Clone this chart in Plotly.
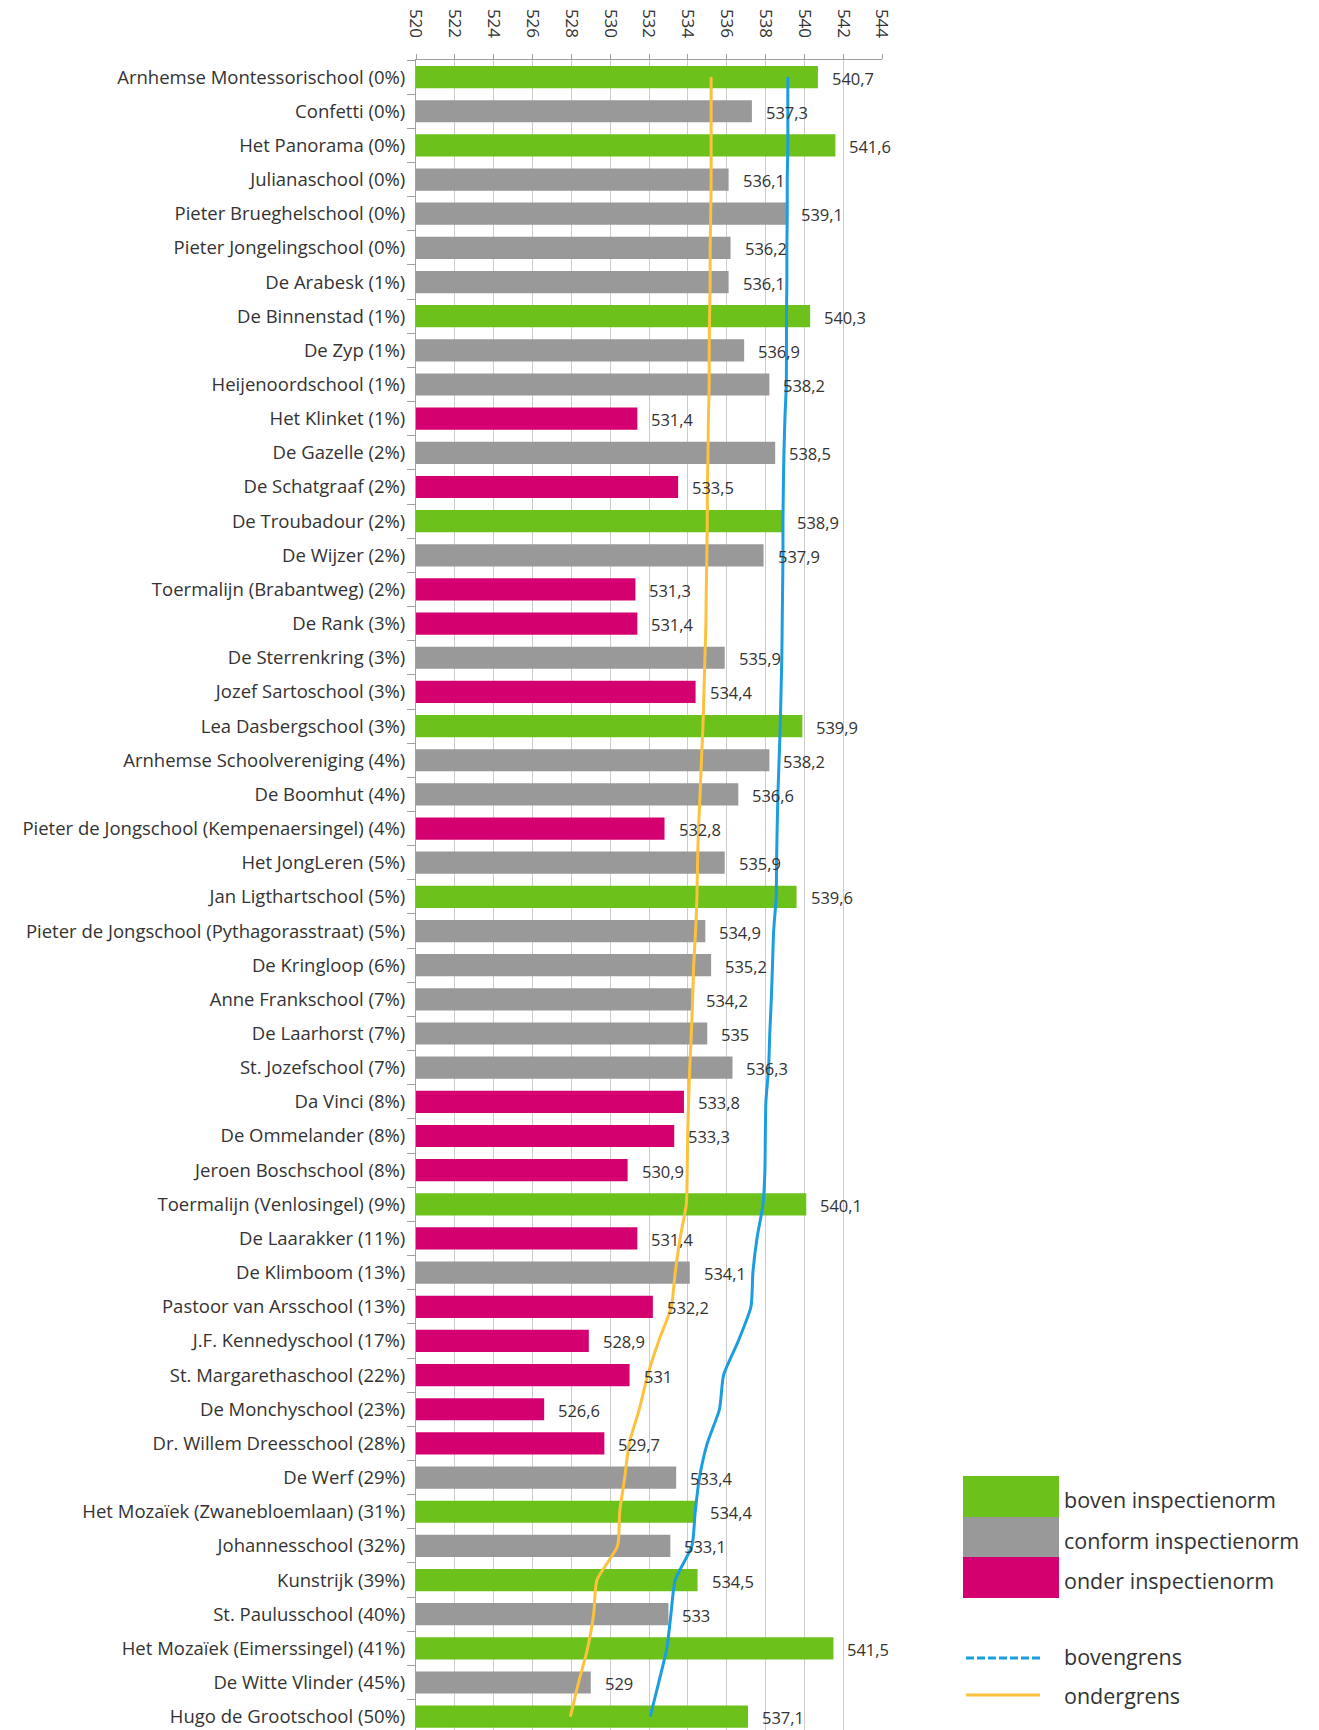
import plotly.graph_objects as go

schools = [
    "Arnhemse Montessorischool (0%)", "Confetti (0%)", "Het Panorama (0%)", "Julianaschool (0%)",
    "Pieter Brueghelschool (0%)", "Pieter Jongelingschool (0%)", "De Arabesk (1%)", "De Binnenstad (1%)",
    "De Zyp (1%)", "Heijenoordschool (1%)", "Het Klinket (1%)", "De Gazelle (2%)", "De Schatgraaf (2%)",
    "De Troubadour (2%)", "De Wijzer (2%)", "Toermalijn (Brabantweg) (2%)", "De Rank (3%)",
    "De Sterrenkring (3%)", "Jozef Sartoschool (3%)", "Lea Dasbergschool (3%)",
    "Arnhemse Schoolvereniging (4%)", "De Boomhut (4%)", "Pieter de Jongschool (Kempenaersingel) (4%)",
    "Het JongLeren (5%)", "Jan Ligthartschool (5%)", "Pieter de Jongschool (Pythagorasstraat) (5%)",
    "De Kringloop (6%)", "Anne Frankschool (7%)", "De Laarhorst (7%)", "St. Jozefschool (7%)",
    "Da Vinci (8%)", "De Ommelander (8%)", "Jeroen Boschschool (8%)", "Toermalijn (Venlosingel) (9%)",
    "De Laarakker (11%)", "De Klimboom (13%)", "Pastoor van Arsschool (13%)", "J.F. Kennedyschool (17%)",
    "St. Margarethaschool (22%)", "De Monchyschool (23%)", "Dr. Willem Dreesschool (28%)",
    "De Werf (29%)", "Het Mozaïek (Zwanebloemlaan) (31%)", "Johannesschool (32%)", "Kunstrijk (39%)",
    "St. Paulusschool (40%)", "Het Mozaïek (Eimerssingel) (41%)", "De Witte Vlinder (45%)",
    "Hugo de Grootschool (50%)",
]

scores = [
    540.7, 537.3, 541.6, 536.1, 539.1, 536.2, 536.1, 540.3, 536.9, 538.2,
    531.4, 538.5, 533.5, 538.9, 537.9, 531.3, 531.4, 535.9, 534.4, 539.9,
    538.2, 536.6, 532.8, 535.9, 539.6, 534.9, 535.2, 534.2, 535.0, 536.3,
    533.8, 533.3, 530.9, 540.1, 531.4, 534.1, 532.2, 528.9, 531.0, 526.6,
    529.7, 533.4, 534.4, 533.1, 534.5, 533.0, 541.5, 529.0, 537.1,
]

# b = boven, c = conform, o = onder inspectienorm
status = [
    "b", "c", "b", "c", "c", "c", "c", "b", "c", "c",
    "o", "c", "o", "b", "c", "o", "o", "c", "o", "b",
    "c", "c", "o", "c", "b", "c", "c", "c", "c", "c",
    "o", "o", "o", "b", "o", "c", "o", "o", "o", "o",
    "o", "c", "b", "c", "b", "c", "b", "c", "b",
]

bovengrens = [
    539.15, 539.15, 539.15, 539.12, 539.12, 539.10, 539.10, 539.08, 539.08, 539.07,
    539.00, 538.95, 538.92, 538.90, 538.90, 538.88, 538.86, 538.84, 538.80, 538.76,
    538.70, 538.64, 538.60, 538.57, 538.55, 538.42, 538.36, 538.30, 538.22, 538.16,
    538.02, 537.99, 537.97, 537.87, 537.56, 537.35, 537.25, 536.60, 535.84, 535.63,
    535.00, 534.60, 534.38, 534.21, 533.35, 533.13, 532.92, 532.50, 532.06,
]

ondergrens = [
    535.20, 535.20, 535.20, 535.20, 535.18, 535.15, 535.15, 535.12, 535.10, 535.10,
    535.06, 535.04, 535.01, 535.00, 534.98, 534.95, 534.93, 534.88, 534.83, 534.78,
    534.70, 534.63, 534.55, 534.50, 534.47, 534.40, 534.30, 534.25, 534.18, 534.10,
    534.04, 533.99, 533.97, 533.92, 533.60, 533.35, 533.15, 532.50, 531.93, 531.50,
    530.98, 530.75, 530.49, 530.38, 529.32, 529.15, 528.84, 528.37, 527.95,
]

x_ticks = list(range(520, 545, 2))

status_names = {"b": "boven inspectienorm", "c": "conform inspectienorm", "o": "onder inspectienorm"}
status_colors = {"b": "#6cc21a", "c": "#999999", "o": "#d4006f"}
BLUE = "#1b9de0"
YELLOW = "#fcc23e"
TEXT = "#333333"
FONT = "Open Sans"

# the page body adds an 8px margin around the figure
OFF = 8
W, H = 1319 - OFF, 1730 - OFF
ML, MR, MT, MB = 416 - OFF, 437, 60 - OFF, 0
BASE = 520


def fmt(v):
    s = f"{v:.1f}"
    if s.endswith(".0"):
        s = s[:-2]
    return s.replace(".", ",")


fig = go.Figure()

fig.add_trace(go.Bar(
    x=[v - BASE for v in scores], y=schools, orientation="h",
    base=BASE,
    marker=dict(color=[status_colors[s] for s in status], line=dict(width=0)),
    customdata=scores, hovertemplate="%{y}: %{customdata}<extra></extra>",
    showlegend=False,
))

fig.add_trace(go.Scatter(
    x=ondergrens, y=schools, mode="lines", name="ondergrens",
    line=dict(color=YELLOW, width=3, shape="spline", smoothing=0.6), showlegend=False,
))
fig.add_trace(go.Scatter(
    x=bovengrens, y=schools, mode="lines", name="bovengrens",
    line=dict(color=BLUE, width=3, shape="spline", smoothing=0.6), showlegend=False,
))

annotations = []
for s, v in zip(schools, scores):
    annotations.append(dict(
        x=v, y=s, xref="x", yref="y", text=fmt(v), showarrow=False,
        xanchor="left", yanchor="middle", xshift=12, yshift=-1,
        font=dict(family=FONT, size=16.5, color=TEXT),
    ))

plot_w = W - ML - MR
plot_h = H - MT - MB


def px(xp):
    # page pixel -> paper fraction
    return (xp - OFF - ML) / plot_w


def py(yp):
    return (H - MB - (yp - OFF)) / plot_h


LEG_FONT = dict(family=FONT, size=21.5, color=TEXT)

# custom legend: stacked colour blocks
shapes = []
bands = [("b", 1476, 1517), ("c", 1517, 1557), ("o", 1557, 1598)]
for key, y0, y1 in bands:
    shapes.append(dict(type="rect", xref="paper", yref="paper",
                       x0=px(963), x1=px(1059), y0=py(y1), y1=py(y0),
                       fillcolor=status_colors[key], line=dict(width=0), layer="above"))
    annotations.append(dict(x=px(1062), y=py((y0 + y1) / 2 + 3), xref="paper", yref="paper",
                            text=status_names[key], showarrow=False, xanchor="left", yanchor="middle",
                            font=LEG_FONT))

shapes.append(dict(type="line", xref="paper", yref="paper", x0=px(966), x1=px(1040),
                   y0=py(1658), y1=py(1658), line=dict(color=BLUE, width=3, dash="8px,3px")))
shapes.append(dict(type="line", xref="paper", yref="paper", x0=px(966), x1=px(1040),
                   y0=py(1695), y1=py(1695), line=dict(color=YELLOW, width=3)))
annotations.append(dict(x=px(1062), y=py(1656), xref="paper", yref="paper", text="bovengrens",
                        showarrow=False, xanchor="left", yanchor="middle", font=LEG_FONT))
annotations.append(dict(x=px(1062), y=py(1695), xref="paper", yref="paper", text="ondergrens",
                        showarrow=False, xanchor="left", yanchor="middle", font=LEG_FONT))

fig.update_layout(
    width=W, height=H,
    margin=dict(l=ML, r=MR, t=MT, b=MB, pad=0, autoexpand=False),
    paper_bgcolor="white", plot_bgcolor="white",
    bargap=0.35,
    annotations=annotations,
    shapes=shapes,
    font=dict(family=FONT, color=TEXT),
)

fig.update_xaxes(
    side="top", range=[520, 544], tickvals=x_ticks, ticktext=[str(t) for t in x_ticks],
    tickangle=90, tickfont=dict(family=FONT, size=17, color=TEXT),
    showgrid=True, gridcolor="#cccccc", gridwidth=1,
    showline=True, linecolor="#a0a0a0", linewidth=1,
    ticks="outside", ticklen=5, tickcolor="#a0a0a0", ticklabelstandoff=10,
    zeroline=False, mirror=False, automargin=False,
)
fig.update_yaxes(
    type="category", categoryorder="array", categoryarray=schools,
    range=[48.39, -0.5], autorange=False,
    tickfont=dict(family=FONT, size=18.5, color=TEXT),
    showline=True, linecolor="#a0a0a0", linewidth=1,
    ticks="outside", ticklen=8, tickcolor="#a0a0a0", tickson="boundaries",
    showgrid=False, zeroline=False, ticklabelstandoff=6, automargin=False,
)

fig.write_html("out.html")
